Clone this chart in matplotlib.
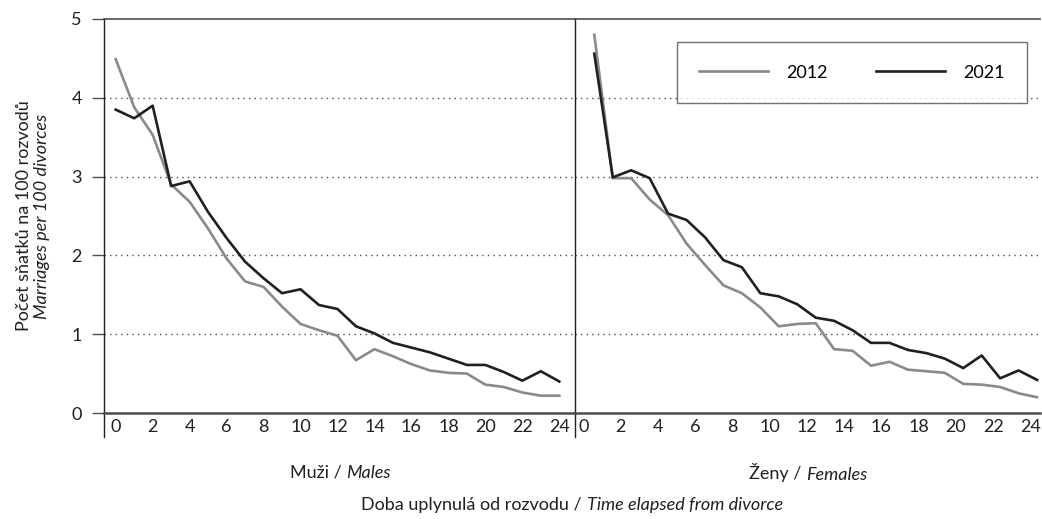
import numpy as np
import matplotlib
matplotlib.use('Agg')
import matplotlib.pyplot as plt
from matplotlib.offsetbox import TextArea, HPacker, AnnotationBbox

plt.rcParams['font.family'] = ['Lato', 'DejaVu Sans']
plt.rcParams['font.size'] = 13

years = np.arange(25)  # doba od rozvodu (roky)
males_2012 = [4.49, 3.88, 3.53, 2.90, 2.68, 2.34, 1.96, 1.67, 1.60, 1.35, 1.13, 1.05, 0.98,
              0.67, 0.81, 0.72, 0.62, 0.54, 0.51, 0.50, 0.36, 0.33, 0.26, 0.22, 0.22]
males_2021 = [3.85, 3.74, 3.90, 2.88, 2.94, 2.55, 2.22, 1.92, 1.71, 1.52, 1.57, 1.37, 1.32,
              1.10, 1.01, 0.89, 0.83, 0.77, 0.69, 0.61, 0.61, 0.52, 0.41, 0.53, 0.40]
females_2012 = [4.80, 2.98, 2.98, 2.71, 2.51, 2.15, 1.88, 1.62, 1.52, 1.34, 1.10, 1.13, 1.14,
                0.81, 0.79, 0.60, 0.65, 0.55, 0.53, 0.51, 0.37, 0.36, 0.33, 0.25, 0.20]
females_2021 = [4.56, 2.99, 3.08, 2.98, 2.53, 2.45, 2.23, 1.94, 1.85, 1.52, 1.48, 1.38, 1.21,
                1.17, 1.05, 0.89, 0.89, 0.80, 0.76, 0.69, 0.57, 0.73, 0.44, 0.54, 0.42]
tick_years = list(range(0, 25, 2))

c2012 = '#8a8a8a'
c2021 = '#231f20'
axc = '#4d4d4d'
fs = 13

fig = plt.figure(figsize=(10.42, 5.19), dpi=100)
W, H = 1042.0, 519.0
bot = 1 - 413 / H
hgt = (413 - 19) / H
ax1 = fig.add_axes([104 / W, bot, (575 - 104) / W, hgt])
ax2 = fig.add_axes([575 / W, bot, (1040 - 575) / W, hgt], sharey=ax1)

ax1.plot(years, males_2012, color=c2012, lw=1.9, label='2012')
ax1.plot(years, males_2021, color=c2021, lw=1.9, label='2021')
ax2.plot(years, females_2012, color=c2012, lw=1.9, label='2012')
ax2.plot(years, females_2021, color=c2021, lw=1.9, label='2021')

ax1.set_xlim(-0.633, 24.85)
ax2.set_xlim(-1.046, 24.16)
ax1.set_ylim(0, 5)
ax1.set_yticks([0, 1, 2, 3, 4, 5])

ax1.set_xticks(tick_years)
ax1.set_xticklabels([str(t) for t in tick_years])
ax2.set_xticks([t * 1.01 - 0.6 for t in tick_years])
ax2.set_xticklabels([str(t) for t in tick_years])

for ax in (ax1, ax2):
    for y in [1, 2, 3, 4]:
        ax.axhline(y, color=axc, lw=1.0, ls=(0, (1, 3)), zorder=0)
    ax.spines['right'].set_visible(False)
    ax.spines['top'].set_color(axc)
    ax.spines['top'].set_linewidth(1.2)
    ax.spines['bottom'].set_color(axc)
    ax.spines['bottom'].set_linewidth(1.8)
    ax.spines['left'].set_color(c2021)
    ax.spines['left'].set_linewidth(1.0)
    ax.tick_params(axis='x', length=0, pad=4, labelsize=fs, colors=c2021)
    # svisla cara pod osou
    ax.plot([0, 0], [-0.061, 0], transform=ax.transAxes, color=c2021, lw=1.0, clip_on=False)

ax1.tick_params(axis='y', length=9, width=1.0, color=axc, pad=7, labelsize=fs, labelcolor=c2021)
ax2.tick_params(axis='y', length=0, labelleft=False)

leg = ax2.legend(loc='upper left', bbox_to_anchor=(0.219, 0.9416), ncol=2, frameon=True,
                 fancybox=False, edgecolor=axc, fontsize=fs, handlelength=3.8,
                 handletextpad=1.0, columnspacing=2.7, borderpad=1.25, borderaxespad=0)
leg.get_frame().set_linewidth(1.0)


def mixed_label(x, y, normal, italic):
    box = HPacker(children=[TextArea(normal, textprops=dict(color=c2021, fontsize=fs)),
                            TextArea(italic, textprops=dict(color=c2021, fontsize=fs, style='italic'))],
                  align='baseline', pad=0, sep=0)
    ab = AnnotationBbox(box, (x, y), xycoords='figure fraction', frameon=False,
                        box_alignment=(0.5, 0.5))
    fig.add_artist(ab)


mixed_label(340 / W, 1 - 473 / H, 'Muži / ', 'Males')
mixed_label(808 / W, 1 - 473 / H, 'Ženy / ', 'Females')
mixed_label(572 / W, 1 - 505 / H, 'Doba uplynulá od rozvodu / ', 'Time elapsed from divorce')

fig.text(24 / W, 1 - 216 / H, 'Počet sňatků na 100 rozvodů', rotation=90,
         ha='center', va='center', fontsize=fs, color=c2021)
fig.text(42 / W, 1 - 216 / H, 'Marriages per 100 divorces', rotation=90,
         ha='center', va='center', fontsize=fs, color=c2021, style='italic')

fig.savefig('out.png', dpi=100)
